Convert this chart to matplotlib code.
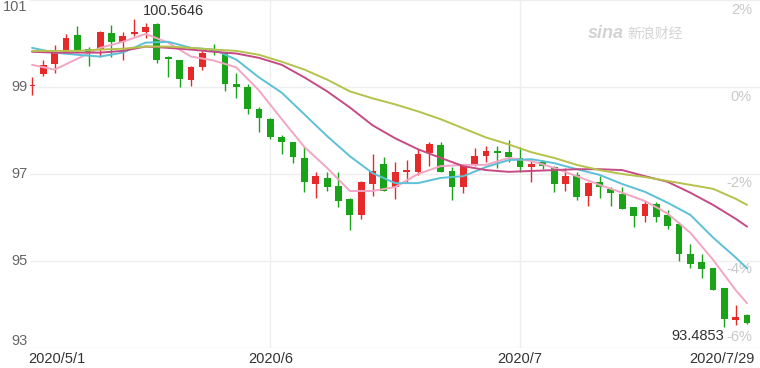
import matplotlib
matplotlib.use('Agg')
import matplotlib.pyplot as plt
import matplotlib.transforms as mtransforms
import pandas as pd

dates = pd.bdate_range('2020-05-01', '2020-07-29')

opens = [99.02, 99.29, 99.54, 99.81, 100.20, 99.88, 99.86, 100.25, 100.04, 100.22,
         100.27, 100.45, 99.70, 99.63, 99.17, 99.47, 99.86, 99.81, 99.06, 98.99,
         98.49, 98.26, 97.85, 97.73, 97.37, 96.77, 96.91, 96.73, 96.43, 96.06,
         96.77, 97.23, 96.70, 97.05, 97.05, 97.48, 97.66, 97.07, 96.70, 97.23,
         97.41, 97.53, 97.50, 97.37, 97.16, 97.27, 97.16, 96.77, 96.98, 96.50,
         96.82, 96.66, 96.54, 96.25, 96.04, 96.31, 96.06, 95.86, 95.17, 94.97,
         94.85, 94.39, 93.64, 93.75]
highs = [99.22, 99.61, 99.97, 100.22, 100.41, 99.93, 100.29, 100.43, 100.27, 100.5646,
         100.47, 100.47, 99.72, 99.63, 99.49, 99.83, 100.00, 99.81, 99.33, 99.06,
         98.55, 98.28, 97.89, 97.73, 97.62, 97.05, 97.05, 97.05, 96.45, 96.84,
         97.46, 97.39, 97.27, 97.32, 97.57, 97.73, 97.73, 97.16, 97.21, 97.59,
         97.64, 97.64, 97.78, 97.62, 97.30, 97.32, 97.18, 97.14, 97.05, 96.82,
         96.95, 96.70, 96.70, 96.25, 96.38, 96.36, 96.18, 95.90, 95.40, 95.17,
         94.85, 94.39, 93.98, 93.78]
lows = [98.81, 99.26, 99.33, 99.79, 99.81, 99.49, 99.70, 99.70, 99.61, 100.18,
        100.13, 99.56, 99.24, 99.01, 99.03, 99.38, 99.74, 98.90, 98.74, 98.37,
        97.96, 97.80, 97.46, 97.25, 96.59, 96.45, 96.61, 96.25, 95.72, 95.97,
        96.50, 96.61, 96.43, 96.82, 96.98, 97.18, 97.05, 96.41, 96.57, 97.18,
        97.27, 97.14, 97.27, 97.05, 96.82, 97.11, 96.59, 96.61, 96.41, 96.27,
        96.45, 96.27, 96.20, 95.79, 95.90, 95.90, 95.74, 95.01, 94.85, 94.62,
        94.33, 93.4853, 93.52, 93.55]
closes = [99.05, 99.51, 99.79, 100.13, 99.86, 99.81, 100.27, 100.04, 100.18, 100.27,
          100.38, 99.63, 99.65, 99.19, 99.45, 99.79, 99.81, 99.06, 98.99, 98.49,
          98.28, 97.85, 97.73, 97.39, 96.82, 96.95, 96.70, 96.38, 96.06, 96.82,
          97.07, 96.61, 97.05, 97.09, 97.46, 97.69, 97.05, 96.70, 97.18, 97.41,
          97.53, 97.48, 97.39, 97.16, 97.23, 97.18, 96.77, 96.95, 96.47, 96.79,
          96.70, 96.57, 96.20, 96.04, 96.31, 96.02, 95.81, 95.17, 94.94, 94.81,
          94.33, 93.66, 93.71, 93.57]

# moving averages at every other session
ma_idx = list(range(0, 63, 2)) + [63]
ma5 = [99.51, 99.40, 99.65, 99.90, 100.04, 100.22, 100.02, 99.70, 99.61, 99.45,
       98.92, 98.26, 97.62, 97.14, 96.61, 96.61, 96.70, 97.00, 97.18, 97.21,
       97.21, 97.37, 97.30, 97.14, 96.95, 96.75, 96.57, 96.38, 96.09, 95.65,
       95.03, 94.33, 94.03]
ma10 = [99.90, 99.79, 99.74, 99.70, 99.79, 100.02, 100.04, 99.90, 99.86, 99.63,
        99.22, 98.87, 98.37, 97.87, 97.41, 97.02, 96.79, 96.79, 96.91, 96.95,
        97.16, 97.32, 97.34, 97.25, 97.11, 96.98, 96.77, 96.59, 96.34, 96.06,
        95.54, 95.08, 94.83]
ma20 = [99.81, 99.79, 99.79, 99.79, 99.83, 99.93, 99.90, 99.86, 99.81, 99.77,
        99.67, 99.51, 99.22, 98.90, 98.53, 98.12, 97.82, 97.57, 97.37, 97.18,
        97.09, 97.05, 97.07, 97.09, 97.11, 97.11, 97.09, 96.95, 96.82, 96.57,
        96.29, 95.97, 95.79]
ma30 = [99.83, 99.83, 99.83, 99.86, 99.88, 99.93, 99.93, 99.90, 99.86, 99.83,
        99.74, 99.58, 99.40, 99.17, 98.90, 98.74, 98.60, 98.44, 98.26, 98.05,
        97.84, 97.68, 97.50, 97.37, 97.21, 97.09, 97.00, 96.93, 96.84, 96.75,
        96.66, 96.43, 96.29]

price_ticks = [101, 99, 97, 95, 93]
base_close = 99.0
pct_ticks = [2, 0, -2, -4, -6]
month_labels = ['2020/5/1', '2020/6', '2020/7', '2020/7/29']

up_color = '#e62a2a'
down_color = '#18a318'
ma_colors = ['#f2a6c4', '#5cc0d6', '#c64a84', '#b5c24c']

plt.rcParams['font.family'] = ['Liberation Sans', 'DejaVu Sans']

fig = plt.figure(figsize=(7.6, 3.68), dpi=100)
ax = fig.add_axes([30 / 760, 20 / 368, 730 / 760, 348 / 368])
ax.set_xlim(-0.18, 64.14)
ax.set_ylim(93, 101)
for s in ax.spines.values():
    s.set_visible(False)
ax.set_xticks([])
ax.set_yticks([])

# grid
for p in price_ticks:
    ax.axhline(p, color='#eeeeee', lw=1, zorder=0)
month_starts = [i for i in range(1, len(dates)) if dates[i].month != dates[i - 1].month]
for i in month_starts:
    ax.axvline(i, color='#eeeeee', lw=1, zorder=0)

# candles
n = len(closes)
idx = list(range(n))
colors = [up_color if c >= o else down_color for o, c in zip(opens, closes)]
bottoms = [min(o, c) for o, c in zip(opens, closes)]
heights = [max(abs(c - o), 0.02) for o, c in zip(opens, closes)]
ax.vlines(idx, lows, highs, colors=colors, lw=1, zorder=2)
ax.bar(idx, heights, bottom=bottoms, width=0.6, color=colors, zorder=3)

# moving averages
for vals, col in zip([ma5, ma10, ma20, ma30], ma_colors):
    ax.plot(ma_idx, vals, color=col, lw=1.4, zorder=4, solid_capstyle='round',
            solid_joinstyle='round')

# left price labels
ytrans = mtransforms.blended_transform_factory(ax.transAxes, ax.transData)
for p in price_ticks:
    va = 'center'
    if p == max(price_ticks):
        va = 'top'
    elif p == min(price_ticks):
        va = 'bottom'
    ax.text(-0.003, p, str(p), transform=ytrans, ha='right', va=va,
            fontsize=10.5, color='#666666')

# right percent labels
for pc in pct_ticks:
    y = base_close * (1 + pc / 100)
    va = 'bottom' if pc == min(pct_ticks) else 'top'
    off = 0.03 if pc == min(pct_ticks) else -0.06
    ax.text(0.989, y + off, '%d%%' % pc, transform=ytrans, ha='right', va=va,
            fontsize=10.5, color='#c8c8c8')

# date labels
xtrans = mtransforms.blended_transform_factory(ax.transData, ax.transAxes)
label_pos = [0] + month_starts + [n - 1]
aligns = ['left', 'center', 'center', 'right']
shifts = [-0.35, 0, 0, 0.7]
for lab, pos, ha, sh in zip(month_labels, label_pos, aligns, shifts):
    ax.text(pos + sh, -0.012, lab, transform=xtrans, ha=ha, va='top',
            fontsize=10.5, color='#333333')

# high / low annotations
hi = highs.index(max(highs))
lo = lows.index(min(lows))
ax.annotate('%.4f' % highs[hi], xy=(hi, highs[hi]), xytext=(9, 8),
            textcoords='offset pixels', ha='left', va='center',
            fontsize=10.5, color='#333333')
ax.annotate('%.4f' % lows[lo], xy=(lo, lows[lo]), xytext=(0, -9),
            textcoords='offset pixels', ha='right', va='center',
            fontsize=10.5, color='#333333')

# watermark
fig.text(606 / 760, 1 - 33 / 368, 'sina', ha='center', va='center', fontsize=13,
         style='italic', weight='bold', color='#d3d3d3')
fig.text(655 / 760, 1 - 34 / 368, '新浪财经', ha='center', va='center', fontsize=10,
         style='italic', color='#d3d3d3', family=['Noto Sans CJK SC', 'DejaVu Sans'])

fig.savefig('out.png', dpi=100)
